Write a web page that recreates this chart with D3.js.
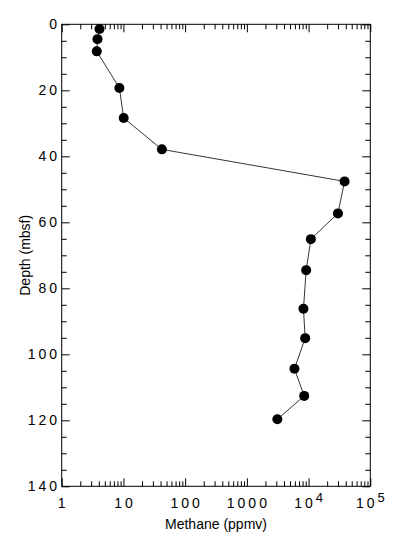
<!DOCTYPE html>
<meta charset="utf-8">
<style>
	body { margin: 0; background: #fff; }
	* { font-family: Helvetica, Arial, "Liberation Sans", sans-serif; }
	.frame { fill: none; stroke: #000; stroke-width: 1px; }
	.tick line { stroke: #000; stroke-width: 1px; }
	.domain { display: none; }
	.ticklabel { font-size: 14px; letter-spacing: 3px; fill: #000; }
	.title { font-size: 14px; fill: #000; }
	.line { fill: none; stroke: #000; stroke-width: 0.8px; }
	.dot { fill: #000; }
</style>
<body>
<div id="chart"></div>
<script src="https://d3js.org/d3.v7.min.js"></script>
<script>
	// values
	var depth = [1.4, 4.5, 8.2, 19.3, 28.4, 37.9, 47.6, 57.3, 65.1, 74.5, 86.2, 95.1, 104.4, 112.6, 119.7];
	var methane = [4.1, 3.8, 3.7, 8.6, 10.1, 42, 38300, 29900, 10900, 9140, 8260, 8810, 5900, 8490, 3120];

	var xTicks = [1, 10, 100, 1000, 1e4, 1e5];
	var xTickLabels = ["1", "10", "100", "1000", "10^4", "10^5"];
	var yTicks = [0, 20, 40, 60, 80, 100, 120, 140];
	var yTickLabels = ["0", "20", "40", "60", "80", "100", "120", "140"];

	var W = 394, H = 544;
	var plotL = 61.7, plotR = 370.3, plotT = 24.3, plotB = 486.3;

	var x = d3.scaleLog().domain([1, 1e5]).range([plotL, plotR]);
	var y = d3.scaleLinear().domain([0, 140]).range([plotT, plotB]);

	// minor ticks 2..9 per decade
	var xMinor = [];
	for (var e = 0; e < 5; e++)
		for (var m = 2; m < 10; m++) xMinor.push(m * Math.pow(10, e));
	var yMinor = d3.range(0, 141, 5).filter(function (v) { return v % 20 !== 0; });

	var svg = d3.select("#chart").append("svg")
			.attr("width", W)
			.attr("height", H);

	// ticks, all pointing inside
	svg.append("g").attr("transform", "translate(0," + plotB + ")")
			.call(d3.axisBottom(x).tickValues(xTicks).tickSize(-8).tickFormat(""));
	svg.append("g").attr("transform", "translate(0," + plotB + ")")
			.call(d3.axisBottom(x).tickValues(xMinor).tickSize(-5).tickFormat(""));
	svg.append("g").attr("transform", "translate(0," + plotT + ")")
			.call(d3.axisTop(x).tickValues(xTicks).tickSize(-8).tickFormat(""));
	svg.append("g").attr("transform", "translate(0," + plotT + ")")
			.call(d3.axisTop(x).tickValues(xMinor).tickSize(-5).tickFormat(""));

	svg.append("g").attr("transform", "translate(" + plotL + ",0)")
			.call(d3.axisLeft(y).tickValues(yTicks).tickSize(-8).tickFormat(""));
	svg.append("g").attr("transform", "translate(" + plotL + ",0)")
			.call(d3.axisLeft(y).tickValues(yMinor).tickSize(-5).tickFormat(""));
	svg.append("g").attr("transform", "translate(" + plotR + ",0)")
			.call(d3.axisRight(y).tickValues(yTicks).tickSize(-8).tickFormat(""));
	svg.append("g").attr("transform", "translate(" + plotR + ",0)")
			.call(d3.axisRight(y).tickValues(yMinor).tickSize(-5).tickFormat(""));

	svg.append("rect")
			.attr("class", "frame")
			.attr("x", plotL).attr("y", plotT)
			.attr("width", plotR - plotL).attr("height", plotB - plotT);

	// x tick labels, with superscript exponent
	xTicks.forEach(function (v, i) {
		var parts = xTickLabels[i].split("^");
		var t = svg.append("text")
				.attr("class", "ticklabel")
				.attr("x", x(v) + 1.5)
				.attr("y", 508)
				.attr("text-anchor", "middle");
		t.append("tspan").text(parts[0]);
		if (parts[1]) {
			t.append("tspan")
					.attr("dy", -6)
					.style("font-size", "13px")
					.text(parts[1]);
		}
	});

	yTicks.forEach(function (v, i) {
		svg.append("text")
				.attr("class", "ticklabel")
				.attr("x", 60)
				.attr("y", y(v))
				.attr("dy", "0.36em")
				.attr("text-anchor", "end")
				.text(yTickLabels[i]);
	});

	svg.append("text")
			.attr("class", "title")
			.attr("x", (plotL + plotR) / 2)
			.attr("y", 529)
			.attr("text-anchor", "middle")
			.text("Methane (ppmv)");

	svg.append("text")
			.attr("class", "title")
			.attr("transform", "translate(30," + ((plotT + plotB) / 2) + ") rotate(-90)")
			.attr("text-anchor", "middle")
			.text("Depth (mbsf)");

	var pts = depth.map(function (d, i) { return {depth: d, methane: methane[i]}; });

	var valueline = d3.line()
			.x(function (d) { return x(d.methane); })
			.y(function (d) { return y(d.depth); });

	svg.append("path")
			.datum(pts)
			.attr("class", "line")
			.attr("d", valueline);

	svg.selectAll(".dot")
			.data(pts)
			.enter().append("circle")
			.attr("class", "dot")
			.attr("cx", function (d) { return x(d.methane); })
			.attr("cy", function (d) { return y(d.depth); })
			.attr("r", 5);
</script>
</body>
